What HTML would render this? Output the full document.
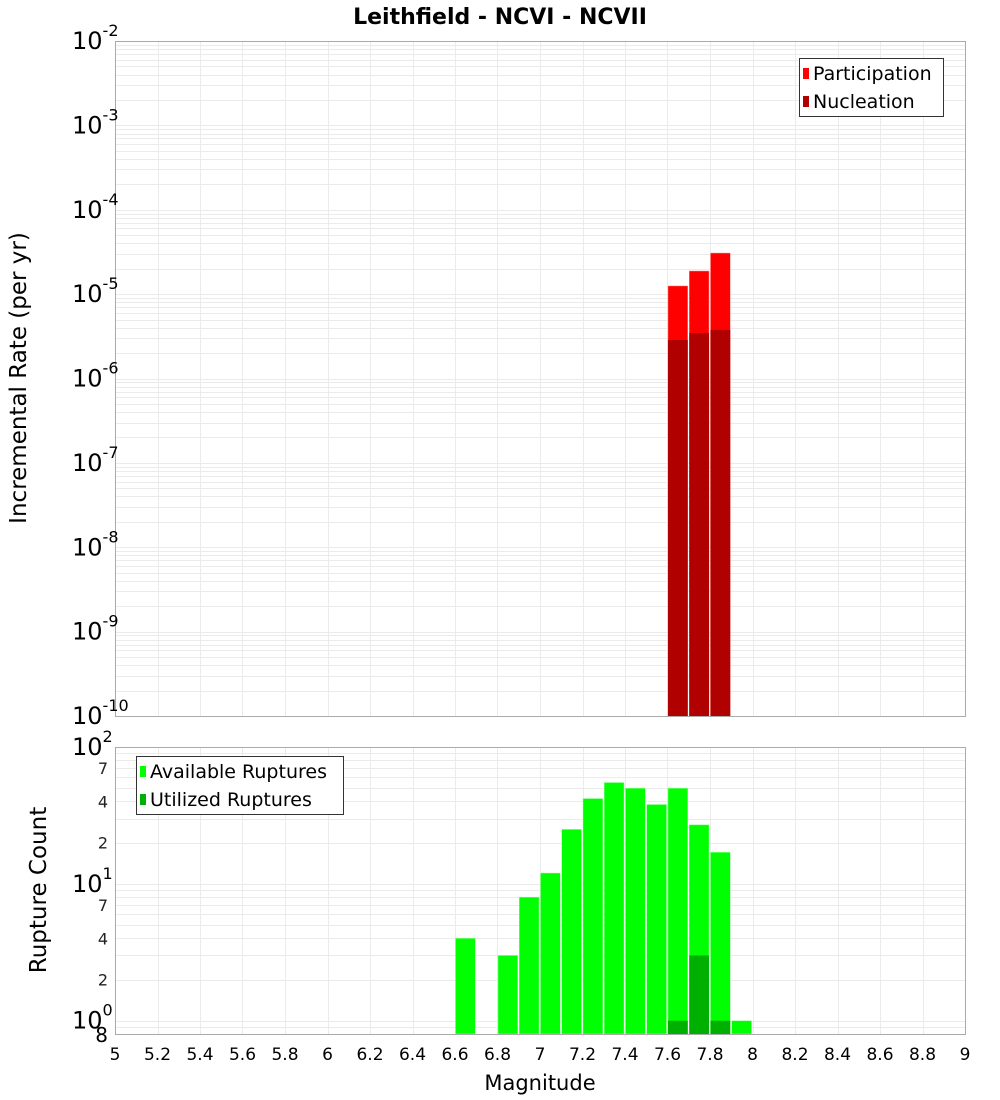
<!DOCTYPE html>
<html><head><meta charset="utf-8"><style>
html,body{margin:0;padding:0;background:#fff;}
svg{display:block;font-family:"DejaVu Sans","Liberation Sans",sans-serif;}
</style></head><body>
<svg id="c" width="1000" height="1100" xmlns="http://www.w3.org/2000/svg"></svg>
<script>
const magBins=[7.65,7.75,7.85];
const participation=[1.25e-5,1.88e-5,3.07e-5];
const nucleation=[2.86e-6,3.46e-6,3.76e-6];
const availBins=[6.65,6.85,6.95,7.05,7.15,7.25,7.35,7.45,7.55,7.65,7.75,7.85,7.95];
const availCounts=[4,3,8,12,25,42,55,50,38,50,27,17,1];
const utilBins=[7.65,7.75,7.85];
const utilCounts=[1,3,1];
const xTicks=[5,5.2,5.4,5.6,5.8,6,6.2,6.4,6.6,6.8,7,7.2,7.4,7.6,7.8,8,8.2,8.4,8.6,8.8,9];
const topExps=[-2,-3,-4,-5,-6,-7,-8,-9,-10];

const NS="http://www.w3.org/2000/svg";
const svg=document.getElementById('c');
function el(t,a,p){const e=document.createElementNS(NS,t);for(const k in a)e.setAttribute(k,a[k]);(p||svg).appendChild(e);return e;}
const X0=115,X1=965,XMIN=5,XMAX=9;
const xs=v=>X0+(v-XMIN)/(XMAX-XMIN)*(X1-X0);
const T0=41,T1=716,TMAX=-2,TMIN=-10;
const ysT=v=>T0+(TMAX-Math.log10(v))/(TMAX-TMIN)*(T1-T0);
const B0=747,B1=1034,BMAX=100,BMIN=0.8;
const ysB=v=>B0+(Math.log10(BMAX)-Math.log10(v))/(Math.log10(BMAX)-Math.log10(BMIN))*(B1-B0);

let t=el('text',{x:500,y:24,'text-anchor':'middle','font-size':22,'font-weight':'bold',fill:'#000'});t.textContent='Leithfield - NCVI - NCVII';


function grid(y0,y1,ys,dmin,dmax){
  const g=el('g',{stroke:'#ebebeb','stroke-width':1});
  for(const v of xTicks){const x=Math.round(xs(v))+.5;el('line',{x1:x,x2:x,y1:y0,y2:y1},g);}
  for(let d=dmin;d<dmax;d++)for(let m=1;m<10;m++){const v=m*Math.pow(10,d);const y=ys(v);if(y<y0-0.5||y>y1+0.5)continue;el('line',{x1:X0,x2:X1,y1:Math.round(y)+.5,y2:Math.round(y)+.5},g);}
  return g;
}
let g1=grid(T0,T1,ysT,-10,-2);
let g2=grid(B0,B1,ysB,-1,2);

const bw=(xs(0.1)-xs(0));
magBins.forEach((m,i)=>{
  let r=el('rect',{x:xs(m)-bw/2+0.5,y:ysT(participation[i]),width:bw-1.5,height:T1-ysT(participation[i]),fill:'#ff0000',stroke:'#ff9090','stroke-width':0.5});
  
  let n=el('rect',{x:xs(m)-bw/2+0.5,y:ysT(nucleation[i]),width:bw-1.5,height:T1-ysT(nucleation[i]),fill:'#b00000'});
  
});
availBins.forEach((m,i)=>{
  let r=el('rect',{x:xs(m)-bw/2+0.5,y:ysB(availCounts[i]),width:bw-1.5,height:B1-ysB(availCounts[i]),fill:'#00ff00',stroke:'#90ff90','stroke-width':0.5});
  
});
utilBins.forEach((m,i)=>{
  let r=el('rect',{x:xs(m)-bw/2+0.5,y:ysB(utilCounts[i]),width:bw-1.5,height:B1-ysB(utilCounts[i]),fill:'#00b000'});
  
});

let f1=el('rect',{x:X0+.5,y:T0+.5,width:X1-X0,height:T1-T0,fill:'none',stroke:'#aaa'});

let f2=el('rect',{x:X0+.5,y:B0+.5,width:X1-X0,height:B1-B0,fill:'none',stroke:'#aaa'});


topExps.forEach(e=>{
  const y=ysT(Math.pow(10,e));
  let tx=el('text',{x:72,y:y+8,'font-size':24,fill:'#000'});
  
  tx.textContent='10';
  let s=el('tspan',{dy:-13,'font-size':16},tx);s.textContent=String(e);
});
[[100,'2'],[10,'1'],[1,'0']].forEach(([v,e])=>{
  const y=ysB(v);
  let tx=el('text',{x:72,y:y+8,'font-size':24,fill:'#000'});
  
  tx.textContent='10';
  let s=el('tspan',{dy:-13,'font-size':16},tx);s.textContent=e;
});
[[7,'7'],[4,'4'],[2,'2'],[70,'7'],[40,'4'],[20,'2']].forEach(([v,l])=>{
  let tx=el('text',{x:108,y:ysB(v)+6,'font-size':16,fill:'#222','text-anchor':'end'});
  
  tx.textContent=l;
});
let e8=el('text',{x:108,y:1042,'font-size':20,fill:'#000','text-anchor':'end'});e8.textContent='8';


xTicks.forEach(v=>{
  let tx=el('text',{x:xs(v),y:1060,'font-size':17,'text-anchor':'middle',fill:'#000'});
  
  tx.textContent=String(v);
});
let xt=el('text',{x:540,y:1090,'font-size':21,'text-anchor':'middle',fill:'#000'});xt.textContent='Magnitude';

let yt1=el('text',{x:0,y:0,'font-size':23,'text-anchor':'middle',fill:'#000',transform:'translate(26,378) rotate(-90)'});yt1.textContent='Incremental Rate (per yr)';

let yt2=el('text',{x:0,y:0,'font-size':23,'text-anchor':'middle',fill:'#000',transform:'translate(46,890) rotate(-90)'});yt2.textContent='Rupture Count';


function legend(x,y,w,items,name){
  const g=el('g',{});
  el('rect',{x:x+.5,y:y+.5,width:w,height:58,fill:'#fff',stroke:'#333'},g);
  items.forEach(([c,l],i)=>{
    el('rect',{x:x+4,y:y+10+i*28,width:6,height:11,fill:c},g);
    let tx=el('text',{x:x+14,y:y+22+i*28,'font-size':19,fill:'#000'},g);tx.textContent=l;
    
  });
}
legend(799,58,144,[['#ff0000','Participation'],['#b00000','Nucleation']],'top-legend');
legend(136,756,207,[['#00ff00','Available Ruptures'],['#00b000','Utilized Ruptures']],'bottom-legend');
</script>
</body></html>
